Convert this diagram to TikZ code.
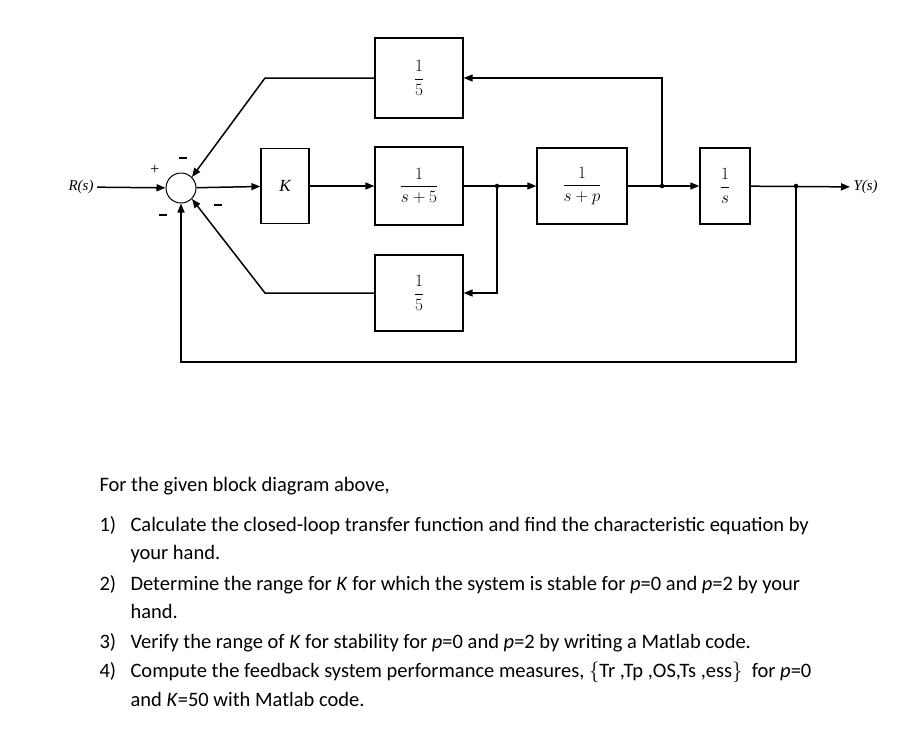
\documentclass[tikz,border=0pt]{standalone}
\usepackage{fontspec}
\setmainfont{Carlito}
\newfontfamily\tms{Liberation Serif}
\usetikzlibrary{arrows.meta}
\begin{document}
\begin{tikzpicture}[x=1pt,y=-1pt,
  blk/.style={draw,line width=1.3pt,inner sep=0pt,font=\fontsize{17}{20}\selectfont},
  sig/.style={line width=1.5pt,-{Triangle[length=9pt,width=7pt]}},
  ln/.style={line width=1.5pt},
  dot/.style={circle,fill,inner sep=1.6pt},
  sgn/.style={font=\tms\fontsize{16}{16}\selectfont},
  mns/.style={fill,rectangle,minimum width=8pt,minimum height=1.1pt,inner sep=0pt},
  txt/.style={anchor=base west,font=\fontsize{20.5}{24}\selectfont}]
\useasboundingbox (0,0) rectangle (902,753);
\node[draw,circle,line width=1pt,minimum size=30pt,inner sep=0pt] (sum) at (181,188) {};
\node[font=\tms\itshape\fontsize{15}{17}\selectfont] (R) at (81,187) {R(s)};
\node[font=\tms\itshape\fontsize{15}{17}\selectfont,anchor=west] (Y) at (850,187) {Y(s)};
\node[blk,minimum width=48pt,minimum height=75pt] (K) at (285,186) {\tms\itshape K};
\node[blk,minimum width=88pt,minimum height=78pt] (g1) at (419,186) {$\displaystyle\frac{1}{s+5}$};
\node[blk,minimum width=88pt,minimum height=80pt] (h1) at (419,78) {$\displaystyle\frac{1}{5}$};
\node[blk,minimum width=88pt,minimum height=76pt] (h2) at (419,293) {$\displaystyle\frac{1}{5}$};
\node[blk,minimum width=90pt,minimum height=76pt] (g2) at (582,186) {$\displaystyle\frac{1}{s+p}$};
\node[blk,minimum width=50pt,minimum height=76pt] (g3) at (725,186) {$\displaystyle\frac{1}{s}$};
\node[dot] (j1) at (497,186) {};
\node[dot] (j2) at (662,186) {};
\node[dot] (j3) at (796,186) {};
\coordinate (c1) at (265,78);
\coordinate (c2) at (265,293);
\coordinate (c3) at (796,362);
\coordinate (c4) at (181,362);
\draw[sig] (R) -- (sum);
\draw[sig] (sum) -- (K);
\draw[sig] (K) -- (g1);
\draw[ln] (g1) -- (j1);
\draw[sig] (j1) -- (g2);
\draw[ln] (g2) -- (j2);
\draw[sig] (j2) -- (g3);
\draw[sig] (g3) -- (Y);
\draw[sig] (j2) |- (h1);
\draw[sig] (j1) |- (h2);
\draw[sig] (h1.west) -- (c1) -- (sum.45);
\draw[sig] (h2.west) -- (c2) -- (sum.-45);
\draw[sig] (j3) -- (c3) -- (c4) -- (sum);
\node[sgn] (p) at (155,170) {+};
\node[mns] (m1) at (183,158) {};
\node[mns] (m2) at (163,215) {};
\node[mns] (m3) at (218,205) {};
\node[txt] (t0) at (96,491) {For the given block diagram above,};
\node[txt] (a1) at (96,531) {1)};
\node[txt] (b1) at (127,531) {Calculate the closed-loop transfer function and find the characteristic equation by};
\node[txt] (b1c) at (127,559) {your hand.};
\node[txt] (a2) at (96,590) {2)};
\node[txt] (b2) at (127,590) {Determine the range for \textit{K} for which the system is stable for \textit{p}=0 and \textit{p}=2 by your};
\node[txt] (b2c) at (127,618) {hand.};
\node[txt] (a3) at (96,648) {3)};
\node[txt] (b3) at (127,648) {Verify the range of \textit{K} for stability for \textit{p}=0 and \textit{p}=2 by writing a Matlab code.};
\node[txt] (a4) at (96,677) {4)};
\node[txt] (b4) at (127,677) {Compute the feedback system performance measures, $\{$Tr ,Tp ,OS,Ts ,ess$\}$ \ for \textit{p}=0};
\node[txt] (b4c) at (127,706) {and \textit{K}=50 with Matlab code.};
\end{tikzpicture}
\end{document}
